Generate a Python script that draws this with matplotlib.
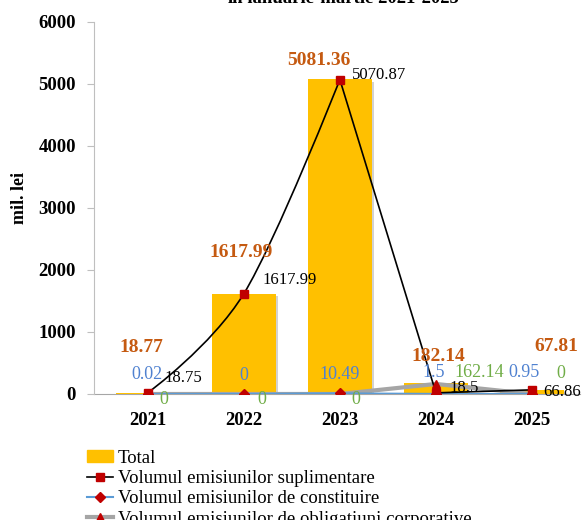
import numpy as np
import matplotlib
matplotlib.use("Agg")
import matplotlib.pyplot as plt
import matplotlib.patheffects as pe
from matplotlib.path import Path
from matplotlib.patches import PathPatch
from matplotlib.lines import Line2D

plt.rcParams['font.family'] = ['Liberation Serif', 'DejaVu Serif']

# ---- data ----
years = ["2021", "2022", "2023", "2024", "2025"]
total = [18.77, 1617.99, 5081.36, 182.14, 67.81]
suplimentare = [18.75, 1617.99, 5070.87, 18.5, 66.86]
constituire = [0.02, 0, 10.49, 1.5, 0.95]
obligatiuni = [0, 0, 0, 162.14, 0]

title = "în ianuarie-martie 2021-2025"
ylabel = "mil. lei"
legend_labels = ["Total",
                 "Volumul emisiunilor suplimentare",
                 "Volumul emisiunilor de constituire",
                 "Volumul emisiunilor de obligațiuni corporative"]

# label offsets (pixels) picked to match the hand-placed labels
off_total = [(-6, 45), (-3, 41), (-21, 18), (2, 26), (24, 43)]
off_supl = [(36, 15), (46, 14), (39, 5), (28, 5), (30, -2)]
off_const = [(-1, 19), (0, 19), (0, 19), (-2, 21), (-8, 21)]
off_oblig = [(16, -5), (18, -5), (16, -5), (43, 11), (29, 21)]

ORANGE = "#C55A11"
BLUE = "#4F81D0"
GREEN = "#70AD47"
RED = "#C00000"
BAR = "#FFC000"


def smooth_path(xs, ys):
    # Bezier through the points, sharp at local extrema (like the Excel smoothing)
    pts = np.column_stack([xs, ys]).astype(float)
    n = len(pts)
    tang = np.zeros_like(pts)
    for i in range(1, n - 1):
        if (ys[i] - ys[i - 1]) * (ys[i + 1] - ys[i]) > 0:
            tang[i] = (pts[i + 1] - pts[i - 1]) / 6.0
    verts = [pts[0]]
    codes = [Path.MOVETO]
    for i in range(n - 1):
        verts += [pts[i] + tang[i], pts[i + 1] - tang[i + 1], pts[i + 1]]
        codes += [Path.CURVE4] * 3
    return Path(verts, codes)


fig = plt.figure(figsize=(5.82, 5.20), dpi=100)
W, H = 582, 520
ax = fig.add_axes([94 / W, 1 - 394 / H, (580 - 94) / W, (394 - 22) / H])

x = np.arange(len(years))

bars = ax.bar(x, total, width=0.66, color=BAR, zorder=2,
              path_effects=[pe.SimplePatchShadow(offset=(2, -2), shadow_rgbFace="#808080", alpha=0.35),
                            pe.Normal()])

ax.add_patch(PathPatch(smooth_path(x, obligatiuni), fill=False, edgecolor="#A5A5A5", lw=3, zorder=3))
ax.add_patch(PathPatch(smooth_path(x, constituire), fill=False, edgecolor="#5B9BD5", lw=1.5, zorder=3))
ax.add_patch(PathPatch(smooth_path(x, suplimentare), fill=False, edgecolor="black", lw=1.2, zorder=4))

ax.plot(x, suplimentare, ls="none", marker="s", ms=6, color=RED, zorder=5)
ax.plot(x, constituire, ls="none", marker="D", ms=5.5, color=RED, zorder=5)
ax.plot(x, obligatiuni, ls="none", marker="^", ms=6, color=RED, zorder=5)

# data labels
for i in range(len(x)):
    ax.annotate(f"{total[i]:g}", (x[i], total[i]), xytext=off_total[i], textcoords="offset pixels",
                ha="center", va="center", color=ORANGE, fontsize=14, fontweight="bold", zorder=6)
    ax.annotate(f"{suplimentare[i]:g}", (x[i], suplimentare[i]), xytext=off_supl[i], textcoords="offset pixels",
                ha="center", va="center", color="black", fontsize=12, zorder=6)
    ax.annotate(f"{constituire[i]:g}", (x[i], constituire[i]), xytext=off_const[i], textcoords="offset pixels",
                ha="center", va="center", color=BLUE, fontsize=13, zorder=6)
    ax.annotate(f"{obligatiuni[i]:g}", (x[i], obligatiuni[i]), xytext=off_oblig[i], textcoords="offset pixels",
                ha="center", va="center", color=GREEN, fontsize=13, zorder=6)

ax.set_xlim(-0.56, 4.5)
ax.set_ylim(0, 6000)
ax.set_yticks(range(0, 6001, 1000))
ax.set_xticks(x)
ax.set_xticklabels(years)
for lab in ax.get_xticklabels() + ax.get_yticklabels():
    lab.set_fontweight("bold")
    lab.set_fontsize(13.5)
ax.tick_params(axis="x", length=0, pad=13)
ax.tick_params(axis="y", length=5, color="#BFBFBF", pad=8)
for s in ["top", "right"]:
    ax.spines[s].set_visible(False)
ax.spines["left"].set_color("#BFBFBF")
ax.spines["bottom"].set_color("#A6A6A6")
ax.spines["bottom"].set_zorder(1)

fig.text(19 / W, 1 - 198 / H, ylabel, rotation=90, ha="center", va="center",
         fontsize=13, fontweight="bold")
fig.text(343 / W, 1 - 3 / H, title, ha="center", va="baseline", fontsize=13.5, fontweight="bold")

handles = [
    plt.Rectangle((0, 0), 1, 1, color=BAR),
    Line2D([], [], color="black", lw=1.2, marker="s", ms=6, mfc=RED, mec=RED),
    Line2D([], [], color="#5B9BD5", lw=1.5, marker="D", ms=5.5, mfc=RED, mec=RED),
    Line2D([], [], color="#A5A5A5", lw=3, marker="^", ms=6, mfc=RED, mec=RED),
]
fig.legend(handles, legend_labels, loc="upper left", bbox_to_anchor=(87 / W, 1 - 450 / H),
           frameon=False, fontsize=13.5, handlelength=1.4, handletextpad=0.25,
           labelspacing=0.17, borderpad=0, borderaxespad=0, handleheight=0.6)

fig.savefig("out.png", dpi=100)
